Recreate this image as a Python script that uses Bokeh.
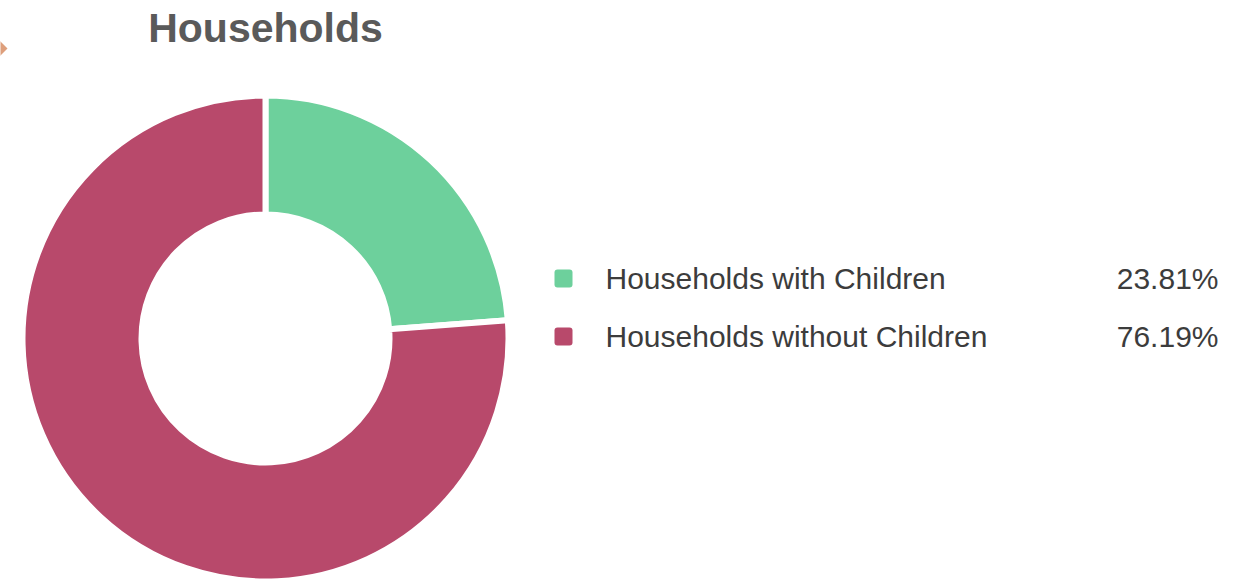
import math
from bokeh.plotting import figure
from bokeh.models import ColumnDataSource
from bokeh.core.properties import value
from bokeh.embed import file_html
from bokeh.resources import INLINE

# ---- data ----
title = "Households"
categories = ["Households with Children", "Households without Children"]
shares = [23.81, 76.19]
colors = ["#6dd09c", "#b8496b"]

W, H = 1239, 581

def Y(py):
    return H - py

# wedge angles (clockwise from 12 o'clock)
starts, ends = [], []
acc = 0.0
total = sum(shares)
for s in shares:
    a0 = math.pi / 2 - 2 * math.pi * acc / total
    acc += s
    a1 = math.pi / 2 - 2 * math.pi * acc / total
    starts.append(a0)
    ends.append(a1)

cx, cy = 265, Y(338)
src = ColumnDataSource(dict(
    x=[cx] * len(shares), y=[cy] * len(shares),
    start=starts, end=ends, color=colors,
))

p = figure(width=W, height=H, x_range=(0, W), y_range=(0, H),
           output_backend="svg", toolbar_location=None,
           min_border=0, min_border_left=0, min_border_right=0,
           min_border_top=0, min_border_bottom=0)
p.axis.visible = False
p.grid.visible = False
p.outline_line_color = None
p.background_fill_color = "white"
p.border_fill_color = "white"

p.annular_wedge(x="x", y="y", inner_radius=124, outer_radius=243,
                start_angle="start", end_angle="end", direction="clock",
                fill_color="color", line_color="white", line_width=6,
                source=src)

# title
p.text(x=[265], y=[Y(27)], text=[title], text_align="center",
       text_baseline="middle", text_font=value("Liberation Sans"),
       text_font_style="bold", text_font_size="41px", text_color="#5a5a5a")

# small orange marker at top-left
p.patch(x=[-4, 7, -4], y=[Y(37), Y(48), Y(59)], fill_color="#de9f7c",
        line_color=None)

# legend
row_y = [278, 336]
p.rect(x=[563, 563], y=[Y(r) for r in row_y], width=18, height=18,
       fill_color=colors, line_color=None, border_radius=3)
p.text(x=[605, 605], y=[Y(r) for r in row_y], text=categories,
       text_align="left", text_baseline="middle",
       text_font=value("Liberation Sans"), text_font_size="30px",
       text_color="#3c3c3c")
p.text(x=[1218, 1218], y=[Y(r) for r in row_y],
       text=[f"{s:.2f}%" for s in shares],
       text_align="right", text_baseline="middle",
       text_font=value("Liberation Sans"), text_font_size="30px",
       text_color="#3c3c3c")

open("out.html", "w").write(file_html(p, INLINE))
